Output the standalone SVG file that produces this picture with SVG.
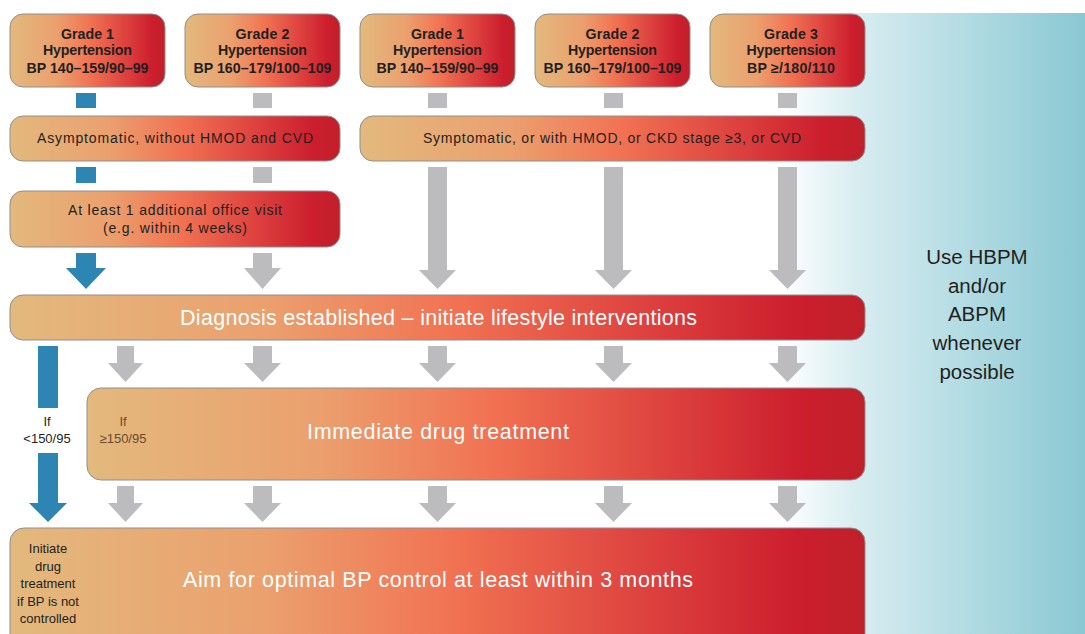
<svg xmlns="http://www.w3.org/2000/svg" width="1085" height="634" viewBox="0 0 1085 634">
<defs>
<linearGradient id="warm" x1="0" y1="0" x2="1" y2="0">
<stop offset="0" stop-color="#e3b97d"/>
<stop offset="0.3" stop-color="#eba06e"/>
<stop offset="0.52" stop-color="#f17252"/>
<stop offset="0.78" stop-color="#da3a3b"/>
<stop offset="0.92" stop-color="#cc1e2e"/>
<stop offset="1" stop-color="#c0202a"/>
</linearGradient>
<linearGradient id="teal" x1="0" y1="0" x2="1" y2="0">
<stop offset="0" stop-color="#ffffff"/>
<stop offset="0.25" stop-color="#d8edf1"/>
<stop offset="1" stop-color="#8ac8d3"/>
</linearGradient>
<style>
.box{fill:url(#warm);stroke:#8f8f8f;stroke-width:1}
.g{fill:#bcbcbe}
.b{fill:#2d85b3}
.t{font-family:"Liberation Sans",Arial,sans-serif;fill:#231f20;text-anchor:middle}
.bold{font-weight:bold;font-size:14.2px}
.m{font-size:14px}
.w{font-family:"Liberation Sans",Arial,sans-serif;fill:#ffffff;text-anchor:middle;font-size:21.5px}
.s{font-size:13px}
.side{font-size:20.5px}
</style>
</defs>
<rect x="780" y="13" width="305" height="621" fill="url(#teal)"/>
<g id="connectors">
<rect class="b" x="76" y="93" width="20" height="15"/>
<rect class="g" x="253" y="93" width="19" height="15"/>
<rect class="g" x="428" y="93" width="19" height="15"/>
<rect class="g" x="604" y="93" width="19" height="15"/>
<rect class="g" x="778" y="93" width="19" height="15"/>
<rect class="b" x="76" y="167" width="20" height="16"/>
<rect class="g" x="253" y="167" width="19" height="16"/>
<polygon class="b" points="76,253 96,253 96,268 106,268 86,289 66,268 76,268"/>
<polygon class="g" points="253,253 272,253 272,268 281,268 262.5,289 244,268 253,268"/>
<polygon class="g" points="428,167 447,167 447,270 456,270 437.5,289 419,270 428,270"/>
<polygon class="g" points="604,167 623,167 623,270 632,270 613.5,289 595,270 604,270"/>
<polygon class="g" points="778,167 797,167 797,270 806,270 787.5,289 769,270 778,270"/>
<rect class="b" x="38" y="346" width="20" height="62"/>
<polygon class="b" points="38,453 58,453 58,503 67,503 48,522 29,503 38,503"/>
<polygon class="g" points="117,346 134,346 134,363 143,363 125.5,382 108,363 117,363"/>
<polygon class="g" points="253,346 272,346 272,363 281,363 262.5,382 244,363 253,363"/>
<polygon class="g" points="428,346 447,346 447,363 456,363 437.5,382 419,363 428,363"/>
<polygon class="g" points="604,346 623,346 623,363 632,363 613.5,382 595,363 604,363"/>
<polygon class="g" points="778,346 797,346 797,363 806,363 787.5,382 769,363 778,363"/>
<polygon class="g" points="117,486 134,486 134,503 143,503 125.5,522 108,503 117,503"/>
<polygon class="g" points="253,486 272,486 272,503 281,503 262.5,522 244,503 253,503"/>
<polygon class="g" points="428,486 447,486 447,503 456,503 437.5,522 419,503 428,503"/>
<polygon class="g" points="604,486 623,486 623,503 632,503 613.5,522 595,503 604,503"/>
<polygon class="g" points="778,486 797,486 797,503 806,503 787.5,522 769,503 778,503"/>
</g>
<g id="grade1a">
<rect class="box" x="10" y="14" width="155" height="73" rx="13"/>
<text class="t bold" x="87.5" y="39" textLength="53">Grade 1</text>
<text class="t bold" x="87.5" y="55" textLength="89">Hypertension</text>
<text class="t bold" x="87.5" y="73" textLength="122">BP 140–159/90–99</text>
</g>
<g id="grade2a">
<rect class="box" x="185" y="14" width="155" height="73" rx="13"/>
<text class="t bold" x="262.5" y="39" textLength="54">Grade 2</text>
<text class="t bold" x="262.5" y="55" textLength="89">Hypertension</text>
<text class="t bold" x="262.5" y="73" textLength="138">BP 160–179/100–109</text>
</g>
<g id="grade1b">
<rect class="box" x="360" y="14" width="155" height="73" rx="13"/>
<text class="t bold" x="437.5" y="39" textLength="53">Grade 1</text>
<text class="t bold" x="437.5" y="55" textLength="89">Hypertension</text>
<text class="t bold" x="437.5" y="73" textLength="122">BP 140–159/90–99</text>
</g>
<g id="grade2b">
<rect class="box" x="535" y="14" width="155" height="73" rx="13"/>
<text class="t bold" x="612.5" y="39" textLength="54">Grade 2</text>
<text class="t bold" x="612.5" y="55" textLength="89">Hypertension</text>
<text class="t bold" x="612.5" y="73" textLength="138">BP 160–179/100–109</text>
</g>
<g id="grade3">
<rect class="box" x="710" y="14" width="155" height="73" rx="13"/>
<text class="t bold" x="791" y="39" textLength="54">Grade 3</text>
<text class="t bold" x="791" y="55" textLength="89">Hypertension</text>
<text class="t bold" x="791" y="73" textLength="88">BP ≥/180/110</text>
</g>
<g id="asymptomatic">
<rect class="box" x="10" y="116" width="330" height="45" rx="13"/>
<text class="t m" x="175" y="143" textLength="276">Asymptomatic, without HMOD and CVD</text>
</g>
<g id="symptomatic">
<rect class="box" x="360" y="116" width="505" height="45" rx="13"/>
<text class="t m" x="612" y="143" textLength="378">Symptomatic, or with HMOD, or CKD stage ≥3, or CVD</text>
</g>
<g id="visit">
<rect class="box" x="10" y="191" width="330" height="56" rx="13"/>
<text class="t m" x="175" y="215" textLength="214">At least 1 additional office visit</text>
<text class="t m" x="175" y="233" textLength="144">(e.g. within 4 weeks)</text>
</g>
<g id="diagnosis">
<rect class="box" x="10" y="295" width="855" height="45" rx="13"/>
<text class="w" x="438.5" y="325" textLength="517">Diagnosis established – initiate lifestyle interventions</text>
</g>
<g id="immediate">
<rect class="box" x="87" y="388" width="778" height="92" rx="14"/>
<text class="w" x="438" y="439" textLength="262">Immediate drug treatment</text>
<text class="t s" x="123" y="426" style="fill:#6b4a2e">If</text>
<text class="t s" x="123" y="443" style="fill:#6b4a2e">≥150/95</text>
</g>
<g id="ifless">
<text class="t s" x="47" y="426">If</text>
<text class="t s" x="47" y="443">&lt;150/95</text>
</g>
<g id="aim">
<rect class="box" x="10" y="528" width="855" height="120" rx="14"/>
<text class="w" x="438" y="587" textLength="510">Aim for optimal BP control at least within 3 months</text>
<text class="t s" x="48" y="553">Initiate</text>
<text class="t s" x="48" y="571">drug</text>
<text class="t s" x="48" y="588">treatment</text>
<text class="t s" x="48" y="606">if BP is not</text>
<text class="t s" x="48" y="623">controlled</text>
</g>
<g id="note">
<text class="t side" x="977" y="264">Use HBPM</text>
<text class="t side" x="977" y="293">and/or</text>
<text class="t side" x="977" y="321">ABPM</text>
<text class="t side" x="977" y="350">whenever</text>
<text class="t side" x="977" y="379">possible</text>
</g>
</svg>
